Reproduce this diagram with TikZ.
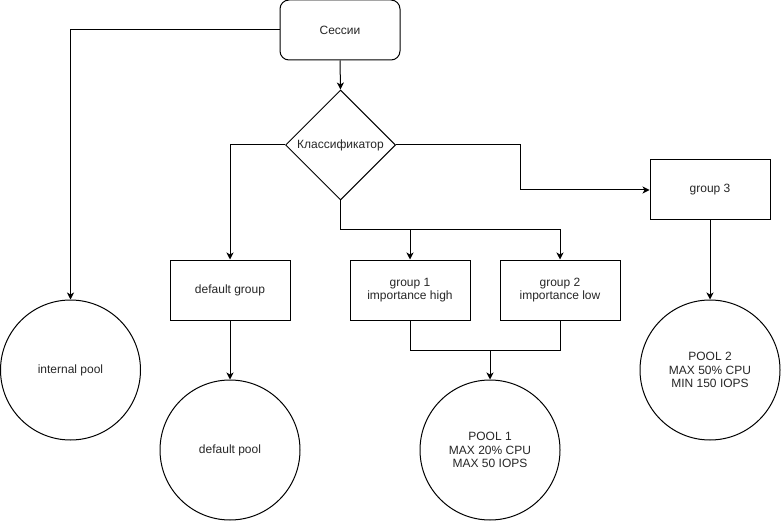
\documentclass[tikz,border=0pt]{standalone}
\usepackage{fontspec}
\setmainfont{Liberation Sans}
\usetikzlibrary{shapes.geometric,arrows.meta}
\begin{document}
\begin{tikzpicture}[x=1pt,y=-1pt,
  every node/.style={font=\fontsize{12pt}{13.5pt}\selectfont, text=black!85},
  box/.style={draw, line width=1pt, minimum width=120pt, minimum height=60pt, inner sep=0pt, align=center},
  pool/.style={draw, line width=1pt, circle, minimum size=140pt, inner sep=0pt, align=center},
  conn/.style={line width=1pt},
  arr/.style={line width=1pt, -{Stealth[length=7pt,width=7pt,inset=2pt]}}]
\useasboundingbox (0,0) rectangle (781,521);
\node[box, rounded corners=9pt] (ses) at (340,30) {Сессии};
\node[draw, line width=1pt, diamond, minimum width=110pt, minimum height=110pt, inner sep=0pt, label={center:Классификатор}] (cls) at (340.5,145) {};
\node[pool] (ipool) at (70.5,370) {internal pool};
\node[box] (dgroup) at (230,290) {default group};
\node[pool] (dpool) at (230,450) {default pool};
\node[box] (g1) at (410,290) {group 1\\importance high};
\node[box] (g2) at (560,290) {group 2\\importance low};
\node[pool] (pool1) at (490,450) {POOL 1\\MAX 20\% CPU\\MAX 50 IOPS};
\node[box] (g3) at (710,190) {group 3};
\node[pool] (pool2) at (710,370) {POOL 2\\MAX 50\% CPU\\MIN 150 IOPS};
\coordinate (j1) at (340.5,230);
\coordinate (j2) at (490,350);
\coordinate (k) at (520,190);
\draw[arr] (ses.west) -| (ipool.north);
\draw[arr] (ses.south) -- (cls.north);
\draw[arr] (cls.west) -| (dgroup.north);
\draw[conn] (cls.south) -- (j1);
\draw[arr] (j1) -| (g1.north);
\draw[arr] (j1) -| (g2.north);
\draw[conn] (cls.east) -| (k);
\draw[arr] (k) -- (g3.west);
\draw[arr] (g3.south) -- (pool2.north);
\draw[arr] (dgroup.south) -- (dpool.north);
\draw[conn] (g1.south) |- (j2);
\draw[conn] (g2.south) |- (j2);
\draw[arr] (j2) -- (pool1.north);
\end{tikzpicture}
\end{document}
